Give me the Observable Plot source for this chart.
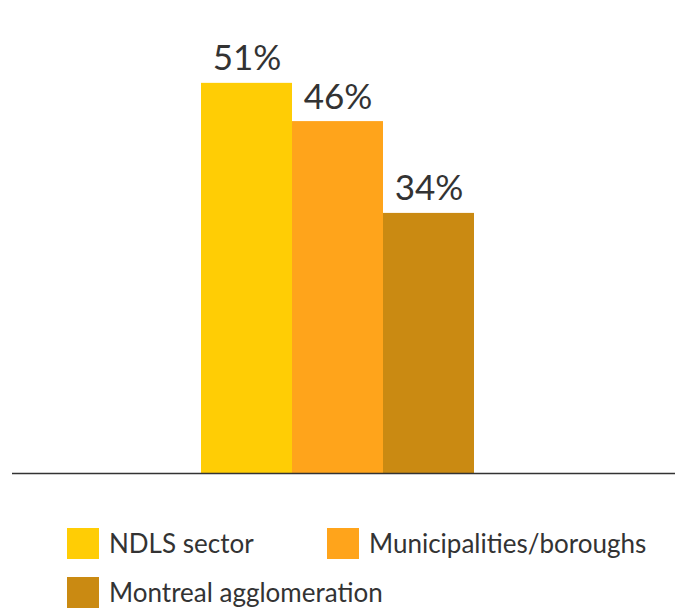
<!DOCTYPE html>
<html>
<head>
<meta charset="utf-8">
<script src="https://cdn.jsdelivr.net/npm/d3@7"></script>
<script src="https://cdn.jsdelivr.net/npm/@observablehq/plot@0.6"></script>
<style>
  html, body { margin: 0; padding: 0; background: #fff; }
  body { width: 691px; height: 613px; overflow: hidden; font-family: Lato, "Open Sans", sans-serif; }
  #legend {
    margin-top: 27px;
    padding-left: 67px;
    display: grid;
    grid-template-columns: 260px auto;
    row-gap: 17px;
    color: #333;
    font-size: 26px;
  }
  .item { display: flex; align-items: center; white-space: nowrap; }
  .item.wide { grid-column: 1 / span 2; }
  .sw { width: 32px; height: 31px; margin-right: 10px; flex: none; }
</style>
</head>
<body>
<div id="chart"></div>
<div id="legend"></div>
<script>
const categories = ["NDLS sector", "Municipalities/boroughs", "Montreal agglomeration"];
const values = [51, 46, 34];
const labels = ["51%", "46%", "34%"];
const colors = ["#FFCD05", "#FFA41B", "#CA8A12"];

const data = categories.map((c, i) => ({category: c, value: values[i], label: labels[i]}));

const chart = Plot.plot({
  width: 691,
  height: 500,
  marginTop: 14,
  marginBottom: 27,
  marginLeft: 12,
  marginRight: 16,
  style: {fontFamily: "Lato, 'Open Sans', sans-serif", background: "#fff"},
  x: {domain: categories, padding: 0, paddingOuter: 2.11, align: 0.485, axis: null},
  y: {domain: [0, 60], axis: null},
  color: {domain: categories, range: colors},
  marks: [
    Plot.barY(data, {x: "category", y: "value", fill: "category"}),
    Plot.text(data, {x: "category", y: "value", text: "label", lineAnchor: "bottom", dy: -13, fontSize: 35, fill: "#333"}),
    Plot.ruleY([0], {stroke: "#333", strokeWidth: 1.5})
  ]
});
document.getElementById("chart").appendChild(chart);

const legend = document.getElementById("legend");
categories.forEach((c, i) => {
  const item = document.createElement("div");
  item.className = "item" + (i === 2 ? " wide" : "");
  const sw = document.createElement("span");
  sw.className = "sw";
  sw.style.background = colors[i];
  const t = document.createElement("span");
  t.textContent = c;
  item.appendChild(sw);
  item.appendChild(t);
  legend.appendChild(item);
});
</script>
</body>
</html>
